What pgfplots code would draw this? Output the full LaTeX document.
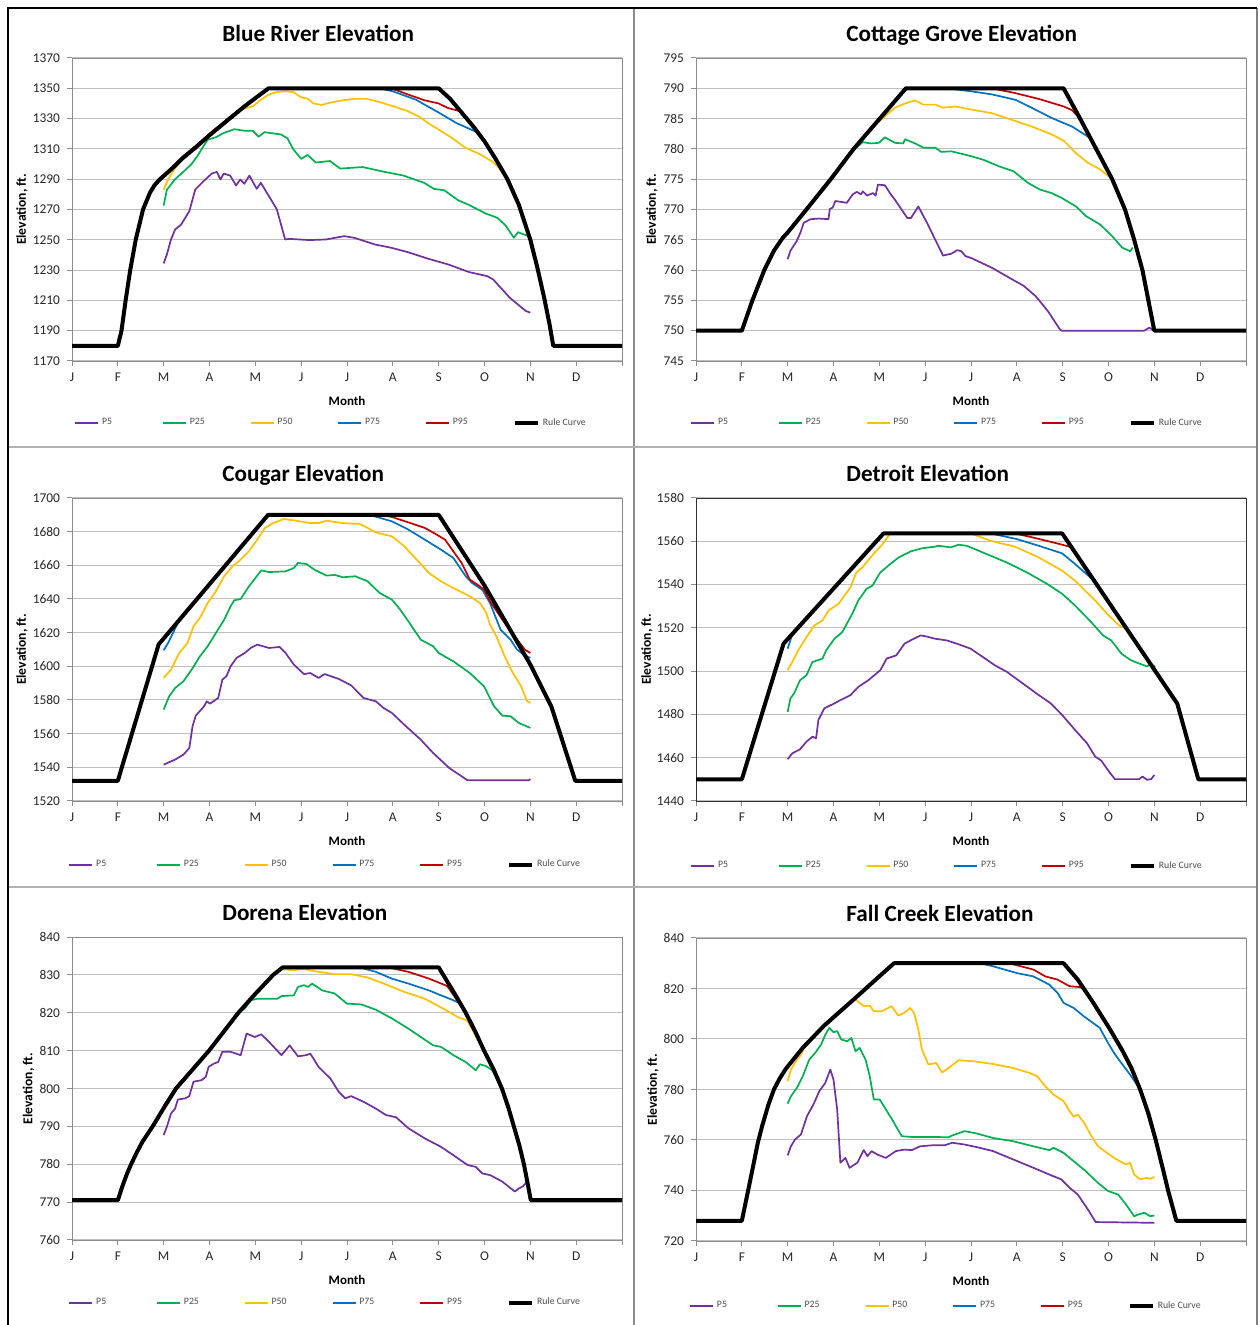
\documentclass[border=0pt]{standalone}
\usepackage{fontspec}
\setmainfont{Carlito}
\usepackage{pgfplots}
\pgfplotsset{compat=1.18}
\definecolor{cP5}{RGB}{112,48,160}
\definecolor{cP25}{RGB}{0,176,80}
\definecolor{cP50}{RGB}{255,192,0}
\definecolor{cP75}{RGB}{0,112,192}
\definecolor{cP95}{RGB}{192,0,0}
\newcommand{\leg}[1]{\makebox[30pt][l]{#1}}
\pgfplotsset{
  panel/.style={
    scale only axis, width=275pt, height=151.5pt,
    xmin=0, xmax=12, xtick={0,...,12},
    xticklabels={J,F,M,A,M,J,J,A,S,O,N,D,},
    ymajorgrids, grid style={black!25, line width=0.5pt},
    axis line style={black!45}, tick style={black!45, line width=0.5pt},
    tick align=outside, major tick length=2.5pt,
    xtick pos=bottom, ytick pos=left,
    tick label style={font=\fontsize{6.7}{8}\selectfont, text=black!85},
    /pgf/number format/assume math mode=true,
    /pgf/number format/1000 sep={},
    xlabel={Month}, ylabel={Elevation, ft.},
    xlabel style={font=\bfseries\fontsize{6.5}{8}\selectfont, at={(0.5,-0.132)}, anchor=center},
    ylabel style={font=\bfseries\fontsize{6.8}{8}\selectfont, anchor=center},
    every axis title shift=0pt,
    title style={font=\bfseries\fontsize{11.6}{14}\selectfont, at={(0.2727,1.056)}, anchor=base west, inner sep=0pt},
    legend columns=6, legend cell align=left,
    legend style={draw=none, fill=none, inner sep=0pt, anchor=west,
      nodes={inner sep=0pt},
      font=\fontsize{4.9}{6}\selectfont, text=black!70,
      /tikz/every odd column/.append style={column sep=1.5pt}},
    legend image code/.code={\draw[##1] (0pt,0pt) -- (11.5pt,0pt);},
  },
  p5/.style={cP5, line width=0.85pt, line join=round},
  p25/.style={cP25, line width=0.85pt, line join=round},
  p50/.style={cP50, line width=0.85pt, line join=round},
  p75/.style={cP75, line width=0.85pt, line join=round},
  p95/.style={cP95, line width=0.85pt, line join=round},
  rule/.style={black, line width=2pt, line join=round},
}
\begin{document}
\begin{tikzpicture}
\useasboundingbox (0,0) rectangle (629.5pt,662.5pt);
\draw[black!45, line width=1pt] (317pt,0) -- (317pt,658.5pt);
\draw[black!30, line width=1pt] (4pt,439pt) -- (628.5pt,439pt);
\draw[black!30, line width=1pt] (4pt,219pt) -- (628.5pt,219pt);
\draw[black!50, line width=1pt] (628.5pt,0) -- (628.5pt,658.5pt);
\draw[black, line width=1pt] (4pt,0) -- (4pt,658.5pt) -- (628.5pt,658.5pt);

% ---------------- Blue River
\begin{axis}[panel, at={(36pt,482pt)}, anchor=south west,
  title={Blue River Elevation},
  ymin=1170, ymax=1370, ytick={1170,1190,...,1370},
  ylabel style={at={(-0.091,0.5)}},
  legend style={at={(0.0036,-0.205)}}]
\addplot[p5] coordinates {(2.0,1234.4)(2.07,1240.3)(2.16,1250.2)(2.25,1256.8)(2.38,1260)(2.56,1268.9)(2.69,1283.2)(2.87,1288.7)(3.05,1293.7)(3.16,1294.8)(3.24,1289.8)(3.31,1293.7)(3.45,1292.4)(3.58,1285.8)(3.67,1289.8)(3.76,1287)(3.87,1292.4)(4.03,1283.6)(4.12,1287.6)(4.34,1276.6)(4.47,1270)(4.65,1250.2)(4.74,1250.6)(5.18,1249.8)(5.54,1250.2)(5.94,1252.4)(6.16,1251.3)(6.61,1246.9)(6.97,1244.7)(7.32,1241.9)(7.77,1237.5)(8.21,1233.7)(8.66,1228.7)(9.06,1226)(9.19,1223.8)(9.55,1211.8)(9.9,1203)(10.0,1201.9)};
\addplot[p25] coordinates {(2.0,1272.6)(2.07,1283)(2.25,1290)(2.42,1294.6)(2.6,1299.7)(2.73,1305)(2.87,1311.8)(2.96,1316)(3.14,1317.7)(3.31,1320.5)(3.54,1323)(3.76,1322)(3.94,1322)(4.07,1318)(4.2,1321)(4.56,1319.5)(4.7,1317)(4.83,1309.6)(5.0,1303.4)(5.14,1306)(5.32,1301)(5.63,1302)(5.85,1297)(6.34,1298)(6.79,1295)(7.23,1292.4)(7.68,1287.6)(7.9,1283.6)(8.12,1282.7)(8.43,1276)(8.66,1273)(9.02,1267.4)(9.28,1264.5)(9.46,1259.5)(9.64,1251.3)(9.73,1255)(10.0,1252)};
\addplot[p50] coordinates {(2.0,1283)(2.1,1290)(2.2,1295)(2.33,1300.5)(2.42,1304)(2.7,1311)(3.0,1319)(3.4,1329)(3.67,1335.5)(3.8,1337)(3.94,1338)(4.1,1342)(4.3,1346)(4.47,1347.5)(4.65,1348)(4.83,1347.5)(5.0,1344)(5.15,1343)(5.27,1340)(5.45,1339)(5.63,1340.5)(5.9,1342)(6.16,1343)(6.43,1343)(6.7,1341)(6.97,1338.5)(7.32,1335)(7.59,1331)(7.77,1327)(8.04,1322)(8.3,1317)(8.57,1311)(8.93,1306)(9.2,1301)(9.3,1298)(9.5,1290)(9.75,1273)(10.0,1250)};
\addplot[p75] coordinates {(2.0,1291)(2.2,1297.5)(2.42,1304)(2.7,1311)(3.0,1319)(3.4,1329)(3.76,1338)(4.0,1343.5)(4.29,1350)(6.7,1350)(7.0,1348)(7.5,1342.5)(8.0,1334)(8.39,1327)(8.84,1321)(9.0,1315)(9.25,1303)(9.5,1290)(9.75,1273)(10.0,1250)};
\addplot[p95] coordinates {(2.0,1292)(2.2,1298.5)(2.42,1305)(2.7,1312)(3.0,1320)(3.4,1330)(3.76,1338.5)(4.0,1344)(4.29,1350)(6.97,1350)(7.32,1346)(7.7,1342)(8.0,1340)(8.2,1337)(8.45,1335)(8.75,1325)(9.0,1315)(9.25,1303)(9.5,1290)(9.75,1273)(9.98,1252)};
\addplot[rule] coordinates {(0,1180)(1.0,1180)(1.08,1190)(1.17,1210)(1.27,1230)(1.39,1250)(1.55,1270)(1.7,1281)(1.8,1286)(1.92,1290)(2.2,1297.5)(2.42,1304)(2.7,1311)(3.0,1319)(3.4,1329)(3.76,1338)(4.0,1343.5)(4.29,1350)(8.0,1350)(8.25,1343)(8.5,1334)(8.75,1325)(9.0,1315)(9.25,1303)(9.5,1290)(9.75,1273)(10.0,1250)(10.15,1232)(10.3,1212)(10.42,1194)(10.5,1180)(12,1180)};
\legend{\leg{P5},\leg{P25},\leg{P50},\leg{P75},\leg{P95},Rule Curve}
\end{axis}

% ---------------- Cottage Grove
\begin{axis}[panel, at={(348pt,482pt)}, anchor=south west,
  title={Cottage Grove Elevation},
  ymin=745, ymax=795, ytick distance=5,
  ylabel style={at={(-0.08,0.5)}},
  legend style={at={(-0.011,-0.205)}}]
\addplot[p5] coordinates {(2.0,761.8)(2.06,763.2)(2.19,764.7)(2.28,766.2)(2.35,767.8)(2.5,768.4)(2.68,768.5)(2.89,768.4)(2.92,770.1)(2.98,770.3)(3.04,771.4)(3.29,771.1)(3.42,772.5)(3.51,772.9)(3.6,772.5)(3.64,773)(3.73,772.3)(3.86,772.7)(3.92,772.3)(3.97,774.1)(4.12,774)(4.25,772.5)(4.34,771.6)(4.61,768.6)(4.69,768.6)(4.85,770.5)(5.04,767.8)(5.22,765)(5.39,762.4)(5.57,762.7)(5.7,763.3)(5.79,763.1)(5.88,762.3)(6.0,762)(6.45,760.4)(6.89,758.5)(7.15,757.4)(7.41,755.7)(7.68,753.2)(7.94,750.2)(7.98,750)(9.78,750)(9.89,750.5)(10.0,750)};
\addplot[p25] coordinates {(2.0,766.2)(2.41,770)(2.94,775)(3.29,778.5)(3.46,780)(3.64,781.1)(3.82,780.9)(3.99,781)(4.12,781.9)(4.34,781)(4.52,780.9)(4.56,781.6)(4.78,780.9)(4.96,780.2)(5.22,780.2)(5.35,779.5)(5.57,779.6)(6.0,778.8)(6.27,778.2)(6.62,777.1)(6.93,776.3)(7.24,774.4)(7.5,773.3)(7.76,772.7)(7.98,771.9)(8.29,770.5)(8.51,768.9)(8.82,767.5)(9.08,765.6)(9.3,763.7)(9.47,763.1)(9.53,763.7)};
\addplot[p50] coordinates {(2.0,766.2)(2.41,770)(2.94,775)(3.44,780)(3.77,783)(3.99,784.5)(4.17,785.7)(4.34,786.8)(4.6,787.6)(4.78,788)(4.96,787.3)(5.22,787.3)(5.39,786.8)(5.66,787)(6.0,786.5)(6.45,785.9)(6.89,784.8)(7.32,783.7)(7.76,782.4)(8.03,781.3)(8.29,779.3)(8.55,777.7)(8.82,776.6)(9.08,775)(9.36,770)(9.56,765)(9.74,760)(9.87,755)(10.0,750)};
\addplot[p75] coordinates {(2.0,766.2)(2.41,770)(2.94,775)(3.44,780)(4.01,785)(4.58,790)(5.48,790)(6.0,789.5)(6.45,789)(6.97,788.1)(7.32,786.8)(7.76,785.1)(8.2,783.7)(8.6,781.8)(8.73,780)(9.08,775)(9.36,770)(9.56,765)(9.74,760)(9.87,755)(10.0,750)};
\addplot[p95] coordinates {(2.0,766.4)(2.41,770.2)(2.94,775.2)(3.44,780.2)(4.01,785.2)(4.58,790)(6.45,790)(6.97,789.2)(7.5,788.2)(8.02,787)(8.2,786.4)(8.38,785)(8.73,780)(9.08,775)(9.36,770)(9.56,765)(9.73,760)(9.85,755)(9.98,750)};
\addplot[rule] coordinates {(0,750)(1.0,750)(1.23,755)(1.49,760)(1.7,763.2)(1.89,765.3)(2.0,766.2)(2.41,770)(2.94,775)(3.44,780)(4.01,785)(4.58,790)(8.02,790)(8.38,785)(8.73,780)(9.08,775)(9.36,770)(9.56,765)(9.74,760)(9.87,755)(10.0,750)(12,750)};
\legend{\leg{P5},\leg{P25},\leg{P50},\leg{P75},\leg{P95},Rule Curve}
\end{axis}

% ---------------- Cougar
\begin{axis}[panel, at={(36pt,262pt)}, anchor=south west,
  title={Cougar Elevation},
  ymin=1520, ymax=1700, ytick distance=20,
  ylabel style={at={(-0.091,0.5)}},
  legend style={at={(-0.007,-0.211)}}]
\addplot[p5] coordinates {(2.0,1541.6)(2.25,1544.6)(2.43,1547.5)(2.56,1551.5)(2.63,1564.4)(2.7,1570.7)(2.88,1576.2)(2.94,1579.2)(3.01,1577.8)(3.19,1581.2)(3.28,1592.1)(3.37,1594.1)(3.46,1600)(3.59,1605)(3.77,1607.9)(3.9,1610.9)(4.04,1612.9)(4.3,1610.9)(4.53,1611.5)(4.66,1607.9)(4.84,1601)(5.06,1595.4)(5.2,1596)(5.38,1593.1)(5.51,1595.4)(5.82,1592.5)(6.09,1588.7)(6.36,1581.2)(6.63,1579.2)(6.8,1575.2)(6.98,1572.3)(7.25,1565.3)(7.61,1556.4)(7.88,1548.5)(8.23,1539.6)(8.63,1532.3)(9.97,1532.3)(10.0,1533)};
\addplot[p25] coordinates {(2.0,1574.3)(2.12,1582.2)(2.25,1587.1)(2.43,1591.1)(2.61,1598)(2.79,1605.9)(2.96,1611.9)(3.14,1619.8)(3.32,1627.7)(3.46,1635.6)(3.54,1639.2)(3.68,1640)(3.86,1647.5)(4.13,1657)(4.3,1656)(4.66,1656.4)(4.84,1658.4)(4.93,1661.4)(5.11,1660.8)(5.29,1657.4)(5.55,1653.9)(5.73,1654.3)(5.91,1652.9)(6.18,1653.5)(6.45,1650.5)(6.71,1643.6)(6.98,1639.6)(7.16,1633.7)(7.34,1626.7)(7.61,1615.8)(7.88,1611.9)(8.0,1607.9)(8.32,1603)(8.68,1596)(8.99,1588.1)(9.21,1576.2)(9.39,1570.7)(9.57,1570.3)(9.75,1566.3)(10.0,1563.4)};
\addplot[p50] coordinates {(2.0,1593.1)(2.16,1598)(2.34,1607.9)(2.52,1613.9)(2.65,1623.8)(2.79,1628.7)(2.96,1637.6)(3.14,1644.6)(3.32,1653.5)(3.5,1659.4)(3.68,1663.4)(3.86,1668.3)(4.04,1675.2)(4.21,1682.2)(4.39,1685.1)(4.62,1687.5)(4.84,1686.7)(5.02,1685.9)(5.2,1685.1)(5.38,1685.1)(5.55,1686.5)(5.91,1685.1)(6.27,1684.6)(6.45,1682.2)(6.62,1679.6)(6.98,1677.2)(7.25,1671.3)(7.52,1663.4)(7.79,1655.4)(8.05,1650.5)(8.32,1646.5)(8.68,1641.6)(8.9,1637.6)(9.04,1631.7)(9.12,1624.8)(9.26,1617.8)(9.44,1605.9)(9.62,1596)(9.8,1588.1)(9.93,1579.2)(10.0,1578.2)};
\addplot[p75] coordinates {(2.0,1609.5)(2.1,1614)(2.34,1627.5)(4.28,1690)(6.49,1690)(6.98,1686.1)(7.34,1681.2)(7.7,1675.2)(8.05,1669.3)(8.32,1664.4)(8.59,1653.5)(8.73,1649.5)(8.95,1645.5)(9.12,1637.6)(9.35,1621.8)(9.57,1615.8)(9.71,1609.9)(9.89,1606.3)(10.0,1605)};
\addplot[p95] coordinates {(2.0,1616)(4.28,1690)(6.71,1690)(6.98,1688.7)(7.34,1685.5)(7.7,1682.2)(7.96,1678.2)(8.14,1675.2)(8.32,1668.3)(8.5,1661.4)(8.68,1651.5)(8.9,1647.5)(8.99,1645.5)(9.12,1638.6)(9.39,1627.7)(9.66,1617.8)(9.88,1609.9)(10.0,1607.9)};
\addplot[rule] coordinates {(0,1532)(1.0,1532)(1.89,1613)(4.28,1690)(8.0,1690)(9.0,1648)(10.0,1601)(10.46,1576)(10.98,1532)(12,1532)};
\legend{\leg{P5},\leg{P25},\leg{P50},\leg{P75},\leg{P95},Rule Curve}
\end{axis}

% ---------------- Detroit
\begin{axis}[panel, at={(348pt,262pt)}, anchor=south west,
  title={Detroit Elevation},
  ymin=1440, ymax=1580, ytick distance=20,
  axis line style={black!80},
  ylabel style={at={(-0.089,0.5)}},
  legend style={at={(-0.011,-0.215)}}]
\addplot[p5] coordinates {(2.0,1459.3)(2.1,1462)(2.27,1463.9)(2.41,1467.4)(2.54,1469.7)(2.62,1469)(2.67,1477.4)(2.8,1482.8)(3.02,1485.1)(3.15,1486.6)(3.37,1488.9)(3.54,1492.7)(3.76,1495.8)(4.02,1500.4)(4.16,1505.8)(4.37,1507.3)(4.55,1512.7)(4.68,1514.2)(4.9,1516.5)(5.03,1516)(5.21,1515)(5.47,1514.2)(5.73,1512.4)(5.99,1510.4)(6.26,1506.5)(6.52,1502.7)(6.78,1499.7)(7.13,1494.3)(7.48,1488.9)(7.74,1485.1)(7.99,1479.7)(8.27,1472.8)(8.53,1466.7)(8.71,1460.5)(8.84,1458.7)(9.01,1453.6)(9.14,1450.1)(9.67,1450.1)(9.74,1451.3)(9.84,1449.8)(9.93,1450.1)(10.0,1452)};
\addplot[p25] coordinates {(2.0,1481.2)(2.06,1487.4)(2.14,1489.7)(2.27,1495.8)(2.41,1498.1)(2.54,1504.2)(2.76,1505.8)(2.84,1509.6)(3.02,1515)(3.19,1518)(3.41,1526.5)(3.54,1532.6)(3.72,1538)(3.85,1539.5)(4.02,1545.6)(4.24,1549.5)(4.42,1552.5)(4.68,1555.3)(4.94,1556.8)(5.21,1557.5)(5.29,1557.9)(5.56,1557.2)(5.73,1558.4)(5.91,1557.9)(6.17,1555.6)(6.43,1553.3)(6.78,1550.2)(7.22,1545.6)(7.66,1540.3)(7.99,1535.7)(8.27,1530.3)(8.62,1522.7)(8.88,1516.5)(9.06,1514.2)(9.28,1508.1)(9.49,1505)(9.67,1503.5)(9.84,1502.2)(9.93,1503.2)(10.02,1501.9)};
\addplot[p50] coordinates {(2.0,1500.4)(2.1,1504.2)(2.23,1509.6)(2.41,1515.7)(2.58,1521.1)(2.76,1523.4)(2.89,1528)(3.11,1531.1)(3.37,1538.7)(3.5,1545.6)(3.63,1547.9)(3.81,1552.6)(4.07,1558.7)(4.24,1563.6)(6.0,1563.6)(6.43,1560.2)(6.96,1557.5)(7.48,1552.5)(7.99,1546.4)(8.27,1541.8)(8.71,1532.6)(8.97,1526.5)(9.23,1521.1)(9.41,1519.4)(10.02,1500)};
\addplot[p75] coordinates {(2.0,1510.4)(2.1,1517)(4.09,1563.6)(6.43,1563.6)(7.0,1561)(7.48,1557.9)(7.99,1554.4)(8.27,1549.5)(8.71,1541.3)(10.02,1500)};
\addplot[p95] coordinates {(2.0,1515)(4.09,1563.8)(6.96,1563.6)(7.3,1562)(7.65,1560.2)(7.99,1558.4)(8.18,1557.3)(10.02,1500)};
\addplot[rule] coordinates {(0,1450)(1.0,1450)(1.91,1512.7)(4.09,1563.6)(7.99,1563.6)(10.5,1485)(10.96,1450)(12,1450)};
\legend{\leg{P5},\leg{P25},\leg{P50},\leg{P75},\leg{P95},Rule Curve}
\end{axis}

% ---------------- Dorena
\begin{axis}[panel, at={(36pt,42.5pt)}, anchor=south west,
  title={Dorena Elevation},
  ymin=760, ymax=840, ytick distance=10,
  ylabel style={at={(-0.079,0.5)}},
  legend style={at={(-0.007,-0.208)}}]
\addplot[p5] coordinates {(2.0,787.7)(2.07,789.9)(2.16,793.4)(2.25,794.7)(2.31,797.1)(2.47,797.4)(2.56,798)(2.65,801.8)(2.83,802.2)(2.92,803.1)(2.98,805.7)(3.1,806.6)(3.19,807)(3.28,809.7)(3.46,809.7)(3.68,808.8)(3.81,814.5)(3.99,813.6)(4.13,814.3)(4.3,812.3)(4.57,808.8)(4.75,811.4)(4.93,808.5)(5.11,808.8)(5.2,809.2)(5.38,805.7)(5.64,802.6)(5.82,799.1)(5.96,797.4)(6.09,798)(6.36,796.5)(6.63,794.7)(6.85,793)(7.07,792.4)(7.34,789.5)(7.7,786.8)(8.05,784.6)(8.32,782.4)(8.63,779.8)(8.81,779.3)(8.95,777.6)(9.13,777.1)(9.39,775.4)(9.66,772.8)(9.75,773.6)(9.84,774.2)(9.93,775.4)};
\addplot[p25] coordinates {(2.0,794.8)(2.27,800)(2.63,805)(2.99,810)(3.31,815)(3.59,819.8)(3.77,821.1)(3.9,823.3)(4.04,823.7)(4.48,823.7)(4.57,824.4)(4.84,824.6)(4.93,826.8)(5.06,827.3)(5.15,826.8)(5.24,827.7)(5.46,825.9)(5.73,825.1)(6.0,822.4)(6.31,822.2)(6.63,820.8)(6.98,818.5)(7.34,815.8)(7.61,813.6)(7.88,811.4)(8.05,811)(8.32,808.8)(8.59,807)(8.81,804.8)(8.9,806.4)(9.04,805.9)(9.17,804.8)(9.38,800)(9.64,790)(9.86,780)(9.98,772)};
\addplot[p50] coordinates {(2.0,794.8)(2.27,800)(2.63,805)(2.99,810)(3.31,815)(3.63,820)(4.0,825)(4.39,830)(4.57,831.6)(4.84,831.2)(5.02,831.6)(5.38,830.8)(5.73,830.2)(6.09,830.2)(6.45,829.3)(6.8,827.7)(7.25,825.5)(7.7,823.7)(7.96,822)(8.23,820.2)(8.41,818.9)(8.62,818)(8.99,810)(9.38,800)(9.64,790)(9.86,780)(9.98,772)};
\addplot[p75] coordinates {(2.0,794.8)(2.27,800)(2.63,805)(2.99,810)(3.31,815)(3.63,820)(4.0,825)(4.39,830)(4.6,832)(6.27,832)(6.63,830.8)(6.98,829)(7.34,827.7)(7.79,825.9)(8.05,824.6)(8.32,823.3)(8.46,822.5)(8.59,820)(8.99,810)(9.38,800)(9.64,790)(9.86,780)(9.98,772)};
\addplot[p95] coordinates {(2.0,795.5)(2.27,800.4)(2.63,805.3)(2.99,810.2)(3.31,815.2)(3.63,820.1)(4.0,825.1)(4.39,830)(4.6,832)(6.9,832)(7.34,830.8)(7.79,829)(8.1,827.5)(8.19,827)(8.59,820)(8.99,810)(9.38,800)(9.64,790)(9.85,780)(9.98,772)};
\addplot[rule] coordinates {(0,770.5)(1.0,770.5)(1.1,774.2)(1.2,777.5)(1.29,780)(1.4,782.8)(1.54,786)(1.76,790)(2.0,794.8)(2.27,800)(2.63,805)(2.99,810)(3.31,815)(3.63,820)(4.0,825)(4.39,830)(4.6,832)(8.0,832)(8.1,830)(8.35,825)(8.59,820)(8.8,815)(8.99,810)(9.2,805)(9.38,800)(9.52,795)(9.64,790)(9.76,785)(9.86,780)(9.94,775)(10.01,770.5)(12,770.5)};
\legend{\leg{P5},\leg{P25},\leg{P50},\leg{P75},\leg{P95},Rule Curve}
\end{axis}

% ---------------- Fall Creek
\begin{axis}[panel, at={(348pt,42pt)}, anchor=south west,
  title={Fall Creek Elevation},
  ymin=720, ymax=840, ytick distance=20,
  ylabel style={at={(-0.078,0.5)}},
  legend style={at={(-0.013,-0.215)}}]
\addplot[p5] coordinates {(2.0,753.9)(2.07,757.5)(2.16,760.2)(2.29,762.2)(2.42,769.4)(2.56,774)(2.69,779.3)(2.82,782.6)(2.93,787.9)(3.0,783.9)(3.08,772.1)(3.15,751)(3.26,752.9)(3.35,749)(3.52,751)(3.66,756)(3.74,753.6)(3.83,755.6)(3.96,754.2)(4.14,752.9)(4.36,755.6)(4.54,756.2)(4.71,756)(4.89,757.5)(5.15,757.9)(5.42,757.9)(5.59,758.9)(5.86,758.2)(6.12,757.2)(6.48,755.6)(6.92,752.3)(7.36,749)(7.71,746.3)(7.97,744.4)(8.15,741.1)(8.33,738.4)(8.55,732.5)(8.72,727.5)(10.0,727.2)};
\addplot[p25] coordinates {(2.0,774.4)(2.07,777.3)(2.2,780.6)(2.33,785.3)(2.47,791.8)(2.6,794.5)(2.73,797.8)(2.82,801.7)(2.91,804.4)(3.0,802.7)(3.08,803.1)(3.17,799.8)(3.3,799.1)(3.39,800.4)(3.48,795.1)(3.57,796.5)(3.7,791.8)(3.79,785.3)(3.88,776)(4.01,776)(4.19,770.7)(4.27,768.4)(4.36,765.5)(4.49,761.5)(4.71,761.2)(5.15,761.2)(5.51,761.1)(5.59,761.8)(5.86,763.5)(6.12,762.6)(6.48,760.8)(6.92,759.5)(7.36,757.5)(7.71,756)(7.8,756.9)(8.02,754.9)(8.24,751.6)(8.5,747.7)(8.77,743)(8.99,739.8)(9.21,738.4)(9.38,734.5)(9.56,729.8)(9.65,730.5)(9.78,731.2)(9.91,729.8)(10.0,730.1)};
\addplot[p50] coordinates {(2.0,783.3)(2.07,787.9)(2.2,791.8)(2.29,793.8)(2.4,797.8)(2.78,805)(3.0,808.6)(3.2,811.8)(3.4,815)(3.48,815.6)(3.66,813)(3.79,813.2)(3.88,811)(4.05,811)(4.27,813)(4.41,809.3)(4.54,810.3)(4.67,812.3)(4.76,810.3)(4.85,803.7)(4.93,795.8)(5.07,789.9)(5.24,790.5)(5.37,786.8)(5.51,788.5)(5.73,791.6)(6.04,791.2)(6.48,790.1)(6.92,788.5)(7.27,786.6)(7.44,785.3)(7.62,781.3)(7.8,778)(8.02,775.4)(8.15,771.4)(8.24,769.2)(8.33,770.1)(8.46,767)(8.63,761.5)(8.77,757.5)(9.12,752.9)(9.38,750.3)(9.47,751)(9.56,746.3)(9.69,744.4)(9.82,745)(9.91,744.6)(10.0,745.4)};
\addplot[p75] coordinates {(2.0,789)(2.33,796.5)(2.78,805)(3.0,808.6)(3.48,816.3)(3.92,823.5)(4.32,830)(6.21,830)(6.48,828.8)(7.0,826.1)(7.36,824.8)(7.71,821.5)(7.89,818.2)(8.02,814.3)(8.24,812.3)(8.46,809)(8.68,806.1)(8.81,804.4)(8.99,798.4)(9.12,794.5)(9.25,791.2)(9.47,785.9)(9.69,780)(10.03,760)};
\addplot[p95] coordinates {(2.0,789.5)(2.33,797)(2.78,805.5)(3.0,809)(3.48,816.6)(3.92,823.7)(4.32,830)(6.83,830)(7.36,827.5)(7.62,824.8)(7.89,823.5)(8.15,820.9)(8.41,820.5)(8.68,814)(9.01,804.5)(9.3,795.5)(9.69,780)(10.0,761)};
\addplot[rule] coordinates {(0,728)(1.0,728)(1.08,735)(1.16,742)(1.25,750)(1.35,759)(1.45,766)(1.58,774)(1.7,780)(1.83,784.5)(1.96,788.2)(2.33,796.5)(2.78,805)(3.0,808.6)(3.48,816.3)(3.92,823.5)(4.32,830)(8.02,830)(8.33,823.5)(8.68,814)(9.01,804.5)(9.3,795.5)(9.5,788.5)(9.69,780)(9.87,770.5)(10.03,760)(10.18,749)(10.3,740)(10.48,728)(12,728)};
\legend{\leg{P5},\leg{P25},\leg{P50},\leg{P75},\leg{P95},Rule Curve}
\end{axis}
\end{tikzpicture}
\end{document}
